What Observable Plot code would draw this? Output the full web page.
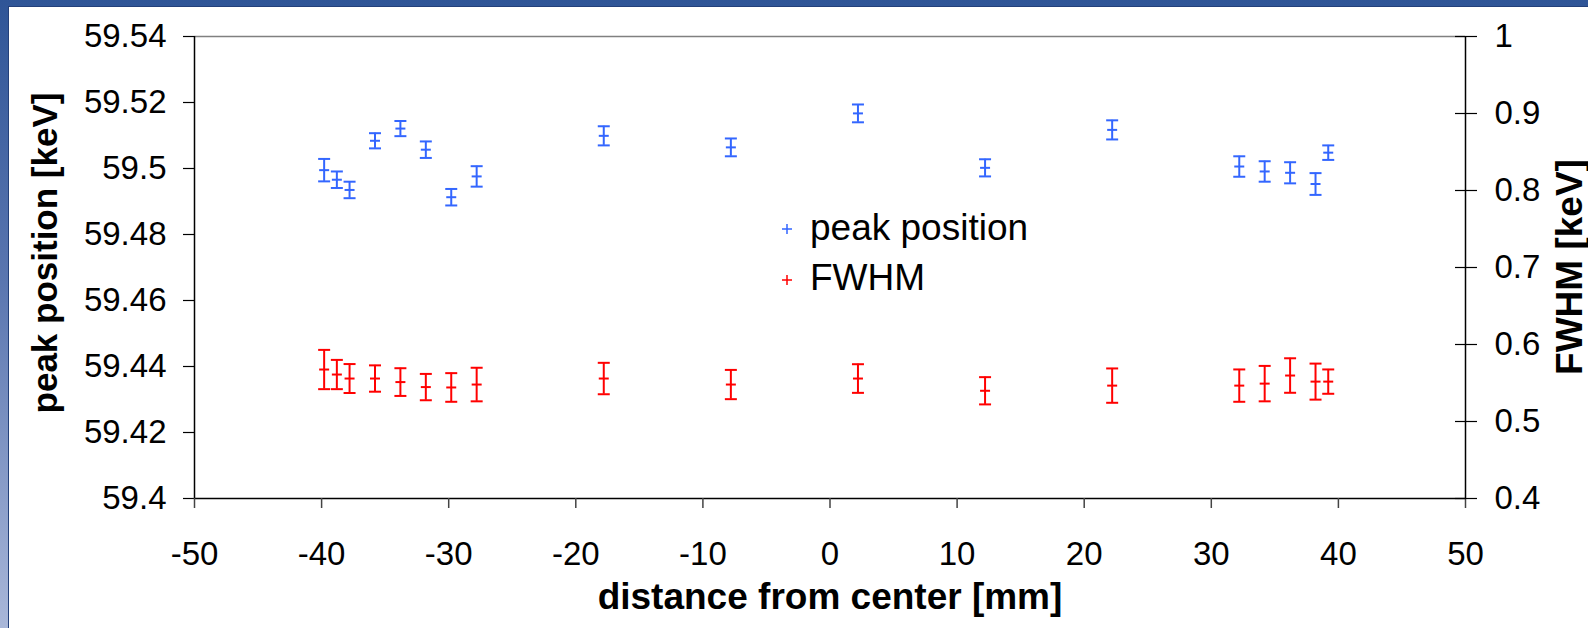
<!DOCTYPE html>
<html>
<head>
<meta charset="utf-8">
<script src="https://cdn.jsdelivr.net/npm/d3@7"></script>
<script src="https://cdn.jsdelivr.net/npm/@observablehq/plot@0.6"></script>
<style>
  html, body { margin: 0; padding: 0; }
  body {
    width: 1588px; height: 628px; overflow: hidden; position: relative;
    background: linear-gradient(to bottom, #2f5597 0%, #5a76b0 45%, #a9b7d9 100%);
    font-family: "Liberation Sans", Arial, sans-serif;
  }
  #panel { position: absolute; left: 8px; top: 6px; right: 0; bottom: 0; background: #fff; border-left: 1px solid #23407a; border-top: 1px solid #23407a; }
  #chart { position: absolute; left: 0; top: 0; }
  .title { position: absolute; font-weight: bold; font-size: 37px; color: #000; white-space: nowrap; }
  .rot { transform: translate(-50%, -50%) rotate(-90deg); }
  .hor { transform: translate(-50%, -50%); }
  .leg { position: absolute; font-size: 37px; color: #000; white-space: nowrap; transform: translateY(-50%); }
  .legm { position: absolute; transform: translate(-50%, -50%); }
</style>
</head>
<body>
<div id="panel"></div>
<div id="chart"></div>
<div class="title rot" style="left:45px; top:253px; font-size:35px;">peak position [keV]</div>
<div class="title rot" style="left:1570px; top:267px;">FWHM [keV]</div>
<div class="title hor" style="left:830px; top:597px;">distance from center [mm]</div>
<svg class="legm" style="left:787px; top:229px;" width="12" height="12"><path d="M1,6H11M6,1V11" stroke="#3366ff" stroke-width="1.5" fill="none"/></svg>
<div class="leg" style="left:810px; top:228px;">peak position</div>
<svg class="legm" style="left:787px; top:280px;" width="12" height="12"><path d="M1,6H11M6,1V11" stroke="#ff0000" stroke-width="1.5" fill="none"/></svg>
<div class="leg" style="left:810px; top:278px;">FWHM</div>
<script>
// ---- data ----
const distance = [-39.8, -38.8, -37.8, -35.8, -33.8, -31.8, -29.8, -27.8, -17.8, -7.8, 2.2, 12.2, 22.2, 32.2, 34.2, 36.2, 38.2, 39.2];
const peakPosition = [59.4995, 59.4966, 59.4935, 59.5084, 59.5121, 59.5057, 59.4913, 59.4976, 59.5099, 59.5064, 59.5167, 59.5002, 59.5117, 59.5006, 59.4991, 59.4987, 59.4953, 59.5048];
const peakError = [0.0034, 0.0025, 0.0025, 0.0023, 0.0023, 0.0025, 0.0025, 0.0031, 0.0029, 0.0027, 0.0027, 0.0026, 0.0029, 0.0031, 0.0031, 0.0032, 0.0033, 0.0022];
const fwhm = [0.5675, 0.561, 0.5558, 0.5558, 0.5512, 0.5447, 0.5442, 0.548, 0.5558, 0.548, 0.5558, 0.5399, 0.5466, 0.5466, 0.5492, 0.5597, 0.5518, 0.5518];
const fwhmError = [0.0255, 0.019, 0.0188, 0.0171, 0.018, 0.0171, 0.0186, 0.0218, 0.0204, 0.019, 0.0186, 0.0177, 0.0223, 0.021, 0.023, 0.0224, 0.0234, 0.0158];

const xTicks = [-50, -40, -30, -20, -10, 0, 10, 20, 30, 40, 50];
const xTickLabels = ["-50", "-40", "-30", "-20", "-10", "0", "10", "20", "30", "40", "50"];
const yTicks = [59.4, 59.42, 59.44, 59.46, 59.48, 59.5, 59.52, 59.54];
const yTickLabels = ["59.4", "59.42", "59.44", "59.46", "59.48", "59.5", "59.52", "59.54"];
const y2Ticks = [0.4, 0.5, 0.6, 0.7, 0.8, 0.9, 1];
const y2TickLabels = ["0.4", "0.5", "0.6", "0.7", "0.8", "0.9", "1"];

const xDomain = [-50, 50];
const yDomain = [59.4, 59.54];
const y2Domain = [0.4, 1];

// map the secondary (FWHM) axis onto the primary y scale
const toY = v => yDomain[0] + (v - y2Domain[0]) * (yDomain[1] - yDomain[0]) / (y2Domain[1] - y2Domain[0]);

const peakData = distance.map((x, i) => ({x, v: peakPosition[i], e: peakError[i]}));
const fwhmData = distance.map((x, i) => ({x, v: toY(fwhm[i]), lo: toY(fwhm[i] - fwhmError[i]), hi: toY(fwhm[i] + fwhmError[i])}));

const xLab = new Map(xTicks.map((t, i) => [t, xTickLabels[i]]));
const yLab = new Map(yTicks.map((t, i) => [t, yTickLabels[i]]));
const y2Pos = y2Ticks.map(toY);
const y2Lab = new Map(y2Pos.map((t, i) => [t, y2TickLabels[i]]));

const hline = {draw(ctx, size) { const r = Math.sqrt(size / Math.PI); ctx.moveTo(-r, 0); ctx.lineTo(r, 0); }};

const blue = "#3366ff";
const red = "#ff0000";

const chart = Plot.plot({
  width: 1588,
  height: 628,
  marginLeft: 194,
  marginRight: 123,
  marginTop: 36,
  marginBottom: 130,
  style: {background: "transparent", fontFamily: "'Liberation Sans', Arial, sans-serif", fontSize: "33px", color: "#000", overflow: "visible"},
  x: {domain: xDomain},
  y: {domain: yDomain},
  marks: [
    Plot.ruleY([yDomain[1]], {stroke: "#808080", strokeWidth: 1.5}),
    Plot.ruleY([yDomain[0]], {stroke: "#000", strokeWidth: 1.5}),
    Plot.ruleX([xDomain[0]], {stroke: "#000", strokeWidth: 1.5}),
    Plot.ruleX([xDomain[1]], {stroke: "#000", strokeWidth: 1.5}),
    Plot.axisY(yTicks, {anchor: "left", tickSize: 11, tickPadding: 17, fontSize: 33, strokeWidth: 1.2, tickFormat: d => yLab.get(d), label: null}),
    Plot.axisX(xTicks, {anchor: "bottom", tickSize: 10, tickPadding: 33, fontSize: 33, strokeWidth: 1.5, stroke: "#444", tickFormat: d => xLab.get(d), label: null}),
    Plot.axisY(y2Pos, {anchor: "right", tickSize: 11, tickPadding: 18, fontSize: 33, strokeWidth: 1.2, tickFormat: d => y2Lab.get(d), label: null}),
    Plot.axisY(y2Pos, {anchor: "right", tickSize: 11, dx: -11, fill: "none", strokeWidth: 1.2, tickFormat: d => y2Lab.get(d), label: null}),
    // peak position
    Plot.ruleX(peakData, {x: "x", y1: d => d.v - d.e, y2: d => d.v + d.e, stroke: blue, strokeWidth: 2}),
    Plot.dot(peakData, {x: "x", y: d => d.v + d.e, symbol: hline, r: 6, stroke: blue, fill: "none", strokeWidth: 2}),
    Plot.dot(peakData, {x: "x", y: d => d.v - d.e, symbol: hline, r: 6, stroke: blue, fill: "none", strokeWidth: 2}),
    Plot.dot(peakData, {x: "x", y: "v", symbol: hline, r: 5, stroke: blue, fill: "none", strokeWidth: 2}),
    // FWHM
    Plot.ruleX(fwhmData, {x: "x", y1: "lo", y2: "hi", stroke: red, strokeWidth: 2}),
    Plot.dot(fwhmData, {x: "x", y: "hi", symbol: hline, r: 6, stroke: red, fill: "none", strokeWidth: 2}),
    Plot.dot(fwhmData, {x: "x", y: "lo", symbol: hline, r: 6, stroke: red, fill: "none", strokeWidth: 2}),
    Plot.dot(fwhmData, {x: "x", y: "v", symbol: hline, r: 5, stroke: red, fill: "none", strokeWidth: 2})
  ]
});
document.getElementById("chart").appendChild(chart);
</script>
</body>
</html>
